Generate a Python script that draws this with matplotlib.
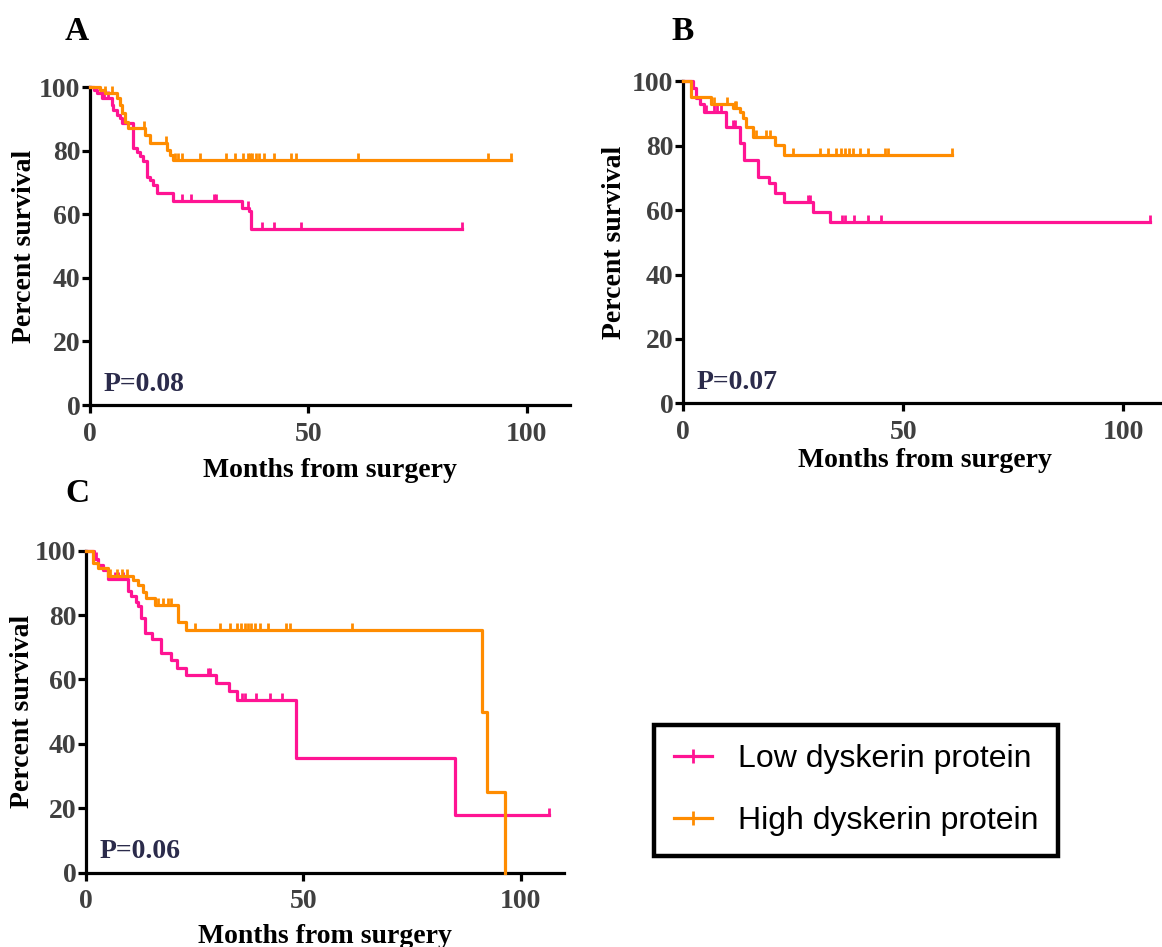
import numpy as np
import matplotlib
matplotlib.use("Agg")
import matplotlib.pyplot as plt
from matplotlib.lines import Line2D
from matplotlib.markers import TICKUP

# colores de las curvas
rosa = "#ff1493"
naranja = "#ff8c00"

# --- Panel A ---
a_low_t = [0, 0.8, 1.5, 2.7, 5.0, 5.3, 6.1, 6.9, 7.3, 9.9, 10.7, 11.5, 12.2, 13.0, 13.7, 14.5, 15.3, 19.1, 34.7, 36.3, 36.8]
a_low_s = [100, 99.0, 98.0, 96.4, 94.3, 92.8, 91.2, 90.2, 88.6, 80.8, 79.7, 78.2, 76.6, 71.8, 70.8, 69.2, 66.6, 64.3, 61.9, 60.9, 55.3]
a_low_end = 85.1
a_low_cens = [3.1, 4.2, 21.0, 23.1, 28.3, 28.9, 36.1, 39.3, 42.2, 48.3, 85.1]

a_high_t = [0, 2.3, 3.4, 6.1, 6.9, 7.3, 8.0, 8.8, 12.6, 13.7, 17.6, 18.3, 18.9]
a_high_s = [100, 99.0, 98.0, 96.4, 94.3, 91.7, 89.1, 87.0, 84.9, 82.3, 80.2, 78.6, 77.0]
a_high_end = 96.4
a_high_cens = [3.5, 5.0, 12.3, 17.3, 19.4, 20.1, 21.0, 25.2, 31.2, 33.2, 35.1, 36.1, 36.7,
               37.1, 38.0, 38.8, 39.8, 42.2, 46.1, 47.2, 61.3, 91.2, 96.4]

# --- Panel B ---
b_low_t = [0, 2.2, 3.0, 3.7, 4.8, 9.8, 12.8, 13.9, 17.0, 19.6, 20.8, 23.0, 29.5, 33.3]
b_low_s = [100, 97.8, 94.7, 93.1, 90.5, 85.9, 80.7, 75.5, 70.4, 68.3, 65.2, 62.6, 59.5, 56.4]
b_low_end = 106.0
b_low_cens = [5.2, 7.1, 7.7, 8.5, 11.3, 11.7, 28.3, 28.9, 36.1, 36.7, 38.9, 42.1, 45.0, 106.0]

b_high_t = [0, 1.8, 6.4, 11.3, 12.8, 13.6, 14.3, 15.8, 20.8, 23.0]
b_high_s = [100, 95.2, 92.9, 91.6, 90.5, 88.5, 85.9, 82.8, 80.2, 77.2]
b_high_end = 61.0
b_high_cens = [7.0, 10.0, 11.7, 12.0, 16.6, 18.9, 19.8, 24.9, 31.0, 32.9, 34.8, 35.9, 36.7,
               37.6, 38.6, 40.1, 42.1, 45.9, 46.5, 61.0]

# --- Panel C ---
c_low_t = [0, 1.8, 2.8, 4.0, 5.0, 9.7, 10.4, 11.6, 12.0, 12.7, 13.5, 15.3, 17.3, 19.6, 21.0,
           23.1, 29.8, 32.9, 34.8, 48.4, 85.0]
c_low_s = [100, 97.5, 95.6, 94.0, 91.2, 87.5, 85.8, 84.0, 82.7, 79.1, 74.5, 72.6, 68.3, 66.0, 63.5,
           61.3, 59.0, 56.3, 53.5, 35.5, 17.8]
c_low_end = 106.4
c_low_cens = [2.4, 6.6, 7.4, 8.4, 28.1, 28.5, 36.0, 36.5, 39.0, 42.3, 45.2, 106.4]

c_high_t = [0, 1.5, 2.8, 5.1, 10.8, 12.0, 13.1, 13.9, 15.8, 21.2, 23.0, 91.0, 92.3, 96.3]
c_high_s = [100, 96.2, 94.5, 92.0, 91.0, 89.4, 87.3, 85.3, 83.0, 78.0, 75.4, 50.0, 25.0, 0]
c_high_end = 96.3
c_high_cens = [5.5, 7.2, 8.3, 9.5, 16.6, 17.7, 18.9, 19.6, 25.0, 30.8, 33.1, 34.7, 35.7, 36.5,
               37.3, 38.0, 38.8, 40.0, 41.9, 46.1, 46.9, 61.2]

etiquetas = ["Low dyskerin protein", "High dyskerin protein"]
p_valores = ["P=0.08", "P=0.07", "P=0.06"]

serif = "Liberation Serif"
gris = "#404040"


def curva(ax, t, s, fin, cens, color):
    t = list(t) + [fin]
    s = list(s) + [s[-1]]
    ax.step(t, s, where="post", color=color, lw=2.3, clip_on=False, zorder=3)
    idx = np.searchsorted(t, cens, side="right") - 1
    ys = np.array(s)[np.clip(idx, 0, len(s) - 1)]
    ax.plot(cens, ys, ls="none", marker=TICKUP, ms=5, mew=2, color=color,
            clip_on=False, zorder=3)


def panel(ax, p, xlab_y, ylab_x):
    ax.set_xlim(0, 110)
    ax.set_ylim(0, 100)
    ax.set_xticks([0, 50, 100])
    ax.set_yticks([0, 20, 40, 60, 80, 100])
    for lado in ["top", "right"]:
        ax.spines[lado].set_visible(False)
    for lado in ["left", "bottom"]:
        ax.spines[lado].set_linewidth(2.3)
    ax.tick_params(axis="y", length=6, width=2.3, pad=1, labelsize=20, labelcolor=gris)
    ax.tick_params(axis="x", length=6, width=2.3, pad=6, labelsize=20, labelcolor=gris)
    for lab in ax.get_xticklabels() + ax.get_yticklabels():
        lab.set_fontfamily(serif)
        lab.set_fontweight("bold")
    ax.set_xlabel("Months from surgery", fontsize=20, fontweight="bold", family=serif)
    ax.set_ylabel("Percent survival", fontsize=20, fontweight="bold", family=serif)
    ax.xaxis.set_label_coords(0.5, xlab_y)
    ax.yaxis.set_label_coords(ylab_x, 0.5)
    ax.text(0.028, 0.065, p, transform=ax.transAxes, fontsize=20, fontweight="bold",
            family=serif, color="#2b2b4b", ha="left", va="center")


fig = plt.figure(figsize=(11.62, 9.47), dpi=100)

axA = fig.add_axes([0.0775, 0.5723, 0.4134, 0.3358])
axB = fig.add_axes([0.588, 0.5741, 0.4165, 0.340])
axC = fig.add_axes([0.074, 0.0785, 0.4115, 0.340])

curva(axA, a_low_t, a_low_s, a_low_end, a_low_cens, rosa)
curva(axA, a_high_t, a_high_s, a_high_end, a_high_cens, naranja)
curva(axB, b_low_t, b_low_s, b_low_end, b_low_cens, rosa)
curva(axB, b_high_t, b_high_s, b_high_end, b_high_cens, naranja)
curva(axC, c_low_t, c_low_s, c_low_end, c_low_cens, rosa)
curva(axC, c_high_t, c_high_s, c_high_end, c_high_cens, naranja)

panel(axA, p_valores[0], -0.165, -0.11)
panel(axB, p_valores[1], -0.138, -0.117)
panel(axC, p_valores[2], -0.158, -0.107)

# letras de los paneles
fig.text(77 / 1162, 1 - 32 / 947, "A", fontsize=24, fontweight="bold", family=serif,
         ha="center", va="center")
fig.text(683 / 1162, 1 - 32 / 947, "B", fontsize=24, fontweight="bold", family=serif,
         ha="center", va="center")
fig.text(77 / 1162, 1 - 493 / 947, "C", fontsize=24, fontweight="bold", family=serif,
         ha="center", va="center")

# leyenda
manejadores = [Line2D([], [], color=rosa, lw=2.3, marker="|", ms=10, mew=2),
               Line2D([], [], color=naranja, lw=2.3, marker="|", ms=10, mew=2)]
ley = fig.legend(manejadores, etiquetas, loc="center", bbox_to_anchor=(0.7367, 0.1653),
                 prop={"family": "Liberation Sans", "size": 23}, frameon=True,
                 fancybox=False, edgecolor="black", framealpha=1, handlelength=1.2,
                 handletextpad=0.8, labelspacing=1.0, borderpad=0.62)
ley.get_frame().set_linewidth(3.2)

fig.savefig("out.png", dpi=100)
